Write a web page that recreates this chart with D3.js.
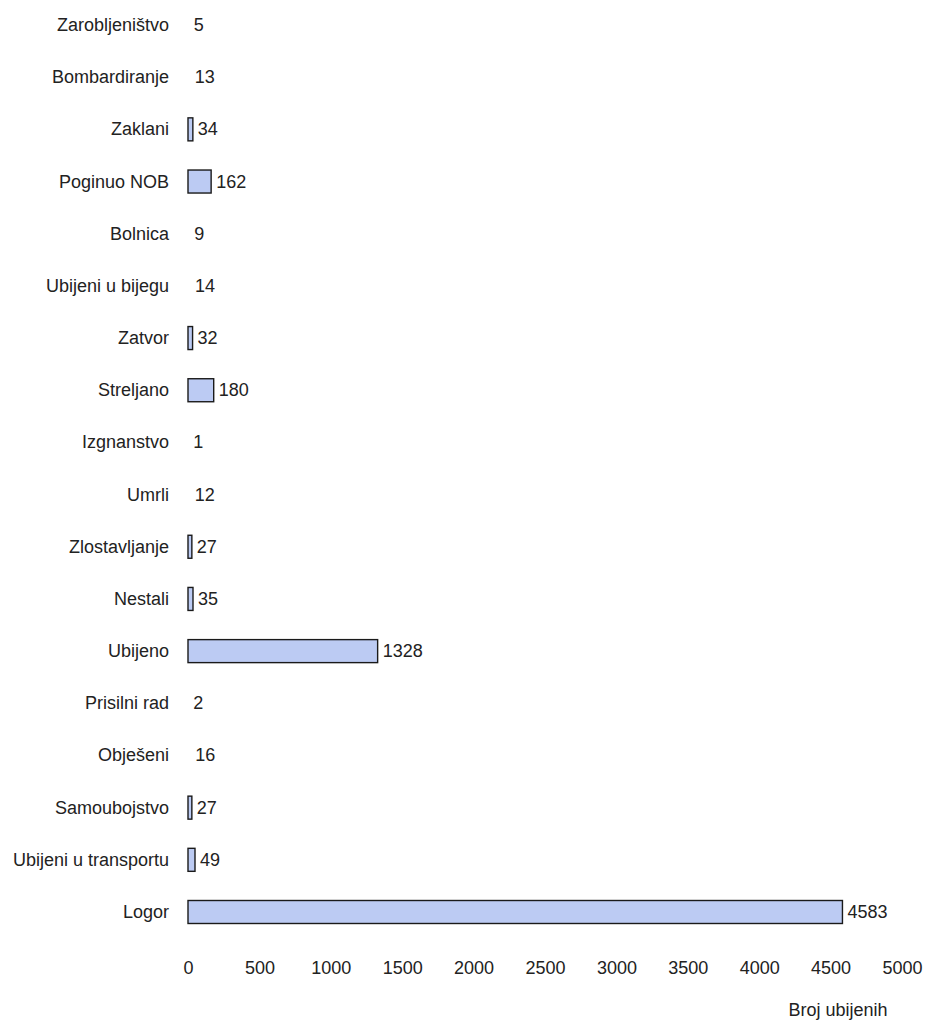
<!DOCTYPE html>
<html>
<head>
<meta charset="utf-8">
<script src="https://cdn.jsdelivr.net/npm/d3@7"></script>
<style>
  html, body { margin: 0; padding: 0; background: #ffffff; }
  svg text { font-family: "Liberation Sans", Arial, sans-serif; fill: #222; }
</style>
</head>
<body>
<svg id="chart" width="925" height="1020"></svg>
<script>
const categories = ["Zarobljeništvo","Bombardiranje","Zaklani","Poginuo NOB","Bolnica","Ubijeni u bijegu","Zatvor","Streljano","Izgnanstvo","Umrli","Zlostavljanje","Nestali","Ubijeno","Prisilni rad","Obješeni","Samoubojstvo","Ubijeni u transportu","Logor"];
const values = [5,13,34,162,9,14,32,180,1,12,27,35,1328,2,16,27,49,4583];
const xTicks = [0,500,1000,1500,2000,2500,3000,3500,4000,4500,5000];
const axisTitle = "Broj ubijenih";

const svg = d3.select("#chart");
const x = d3.scaleLinear().domain([0, 5000]).range([188, 902]);
const y = d3.scalePoint().domain(categories).range([25, 912]);
const barH = 23;
const fs = 18;

// category labels
svg.append("g").selectAll("text").data(categories).join("text")
  .attr("x", 169).attr("y", d => y(d))
  .attr("text-anchor", "end").attr("dominant-baseline", "central")
  .style("font-size", fs + "px").text(d => d);

// bars
const data = categories.map((c, i) => ({c, v: values[i]}));
svg.append("g").selectAll("rect").data(data).join("rect")
  .attr("x", x(0)).attr("y", d => y(d.c) - barH / 2)
  .attr("width", d => x(d.v) - x(0)).attr("height", barH)
  .attr("fill", d => (x(d.v) - x(0)) >= 3 ? "#bccbf3" : "none")
  .attr("stroke", d => (x(d.v) - x(0)) >= 3 ? "#1a1a1a" : "none")
  .attr("stroke-width", 1.4);

// value labels
svg.append("g").selectAll("text").data(data).join("text")
  .attr("x", d => Math.max(x(d.v) + 5, x(0) + 4)).attr("y", d => y(d.c))
  .attr("dominant-baseline", "central")
  .style("font-size", fs + "px").text(d => d.v);

// x axis tick labels (no line)
const ax = svg.append("g").attr("transform", "translate(0,968)")
  .call(d3.axisBottom(x).tickValues(xTicks).tickFormat(d3.format("d")).tickSize(0).tickPadding(0));
ax.select(".domain").remove();
ax.selectAll("text").attr("dy", null).attr("dominant-baseline", "central")
  .style("font-size", fs + "px").style("font-family", '"Liberation Sans", Arial, sans-serif').attr("fill", "#222");

svg.append("text").attr("x", 838).attr("y", 1010)
  .attr("text-anchor", "middle").attr("dominant-baseline", "central")
  .style("font-size", fs + "px").text(axisTitle);
</script>
</body>
</html>
